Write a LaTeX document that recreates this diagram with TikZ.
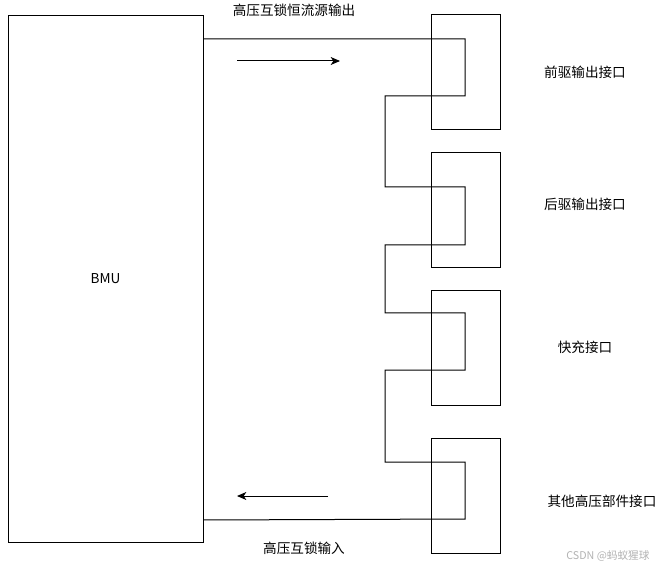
\documentclass[tikz,border=0pt]{standalone}
\usepackage{fontspec}
\setmainfont{Noto Sans CJK SC}
\usepackage{xcolor}
\usepackage{tikz}
\usetikzlibrary{arrows.meta,positioning}

\begin{document}
\begin{tikzpicture}[x=0.75pt, y=-0.75pt,
  unit/.style={draw=black, line width=0.75pt, minimum width=146.25pt, minimum height=394.5pt, font=\fontsize{10.2}{12}\selectfont},
  port/.style={draw=black, line width=0.75pt, minimum width=51.75pt, minimum height=86.25pt},
  lbl/.style={font=\fontsize{10.2}{12}\selectfont, inner sep=0pt},
  wire/.style={line width=0.75pt, draw=black},
  arr/.style={-{Stealth[length=7pt, width=6pt, inset=2pt]}, line width=0.75pt, draw=black}]
\useasboundingbox (0,0) rectangle (664,570);
\node[unit]  (bmu) at (105.5,279) {BMU};
\node[port]  (p1)  at (465.5,72.5)  {};
\node[port]  (p2)  at (465.5,210)   {};
\node[port]  (p3)  at (465.5,348)   {};
\node[port]  (p4)  at (465.5,496)   {};
\coordinate (src) at (203,39);
\coordinate (ret) at (203,520);
% interlock loop through all ports
\draw[wire] (src) -- (465,39) -- (465,96) -- (385,96) -- (385,187) -- (465,187)
  -- (465,245) -- (385,245) -- (385,313) -- (465,313) -- (465,370) -- (385,370)
  -- (385,462) -- (465,462) -- (465,519) -- (ret);
\coordinate (a1) at (237,61);  \coordinate (a2) at (340,61);
\coordinate (b1) at (328,496); \coordinate (b2) at (237,496);
\draw[arr] (a1) -- (a2);
\draw[arr] (b1) -- (b2);
\node[lbl] (tout) at (294,10)  {高压互锁恒流源输出};
\node[lbl] (tin)  at (304,548) {高压互锁输入};
\node[lbl] (l1) at (585,72)  {前驱输出接口};
\node[lbl] (l2) at (585,204) {后驱输出接口};
\node[lbl] (l3) at (585,347) {快充接口};
\node[lbl] (l4) at (602,501) {其他高压部件接口};
\node[lbl, font=\footnotesize, text=black!30] (wm) at (608,556) {CSDN @蚂蚁猩球};
\end{tikzpicture}
\end{document}
